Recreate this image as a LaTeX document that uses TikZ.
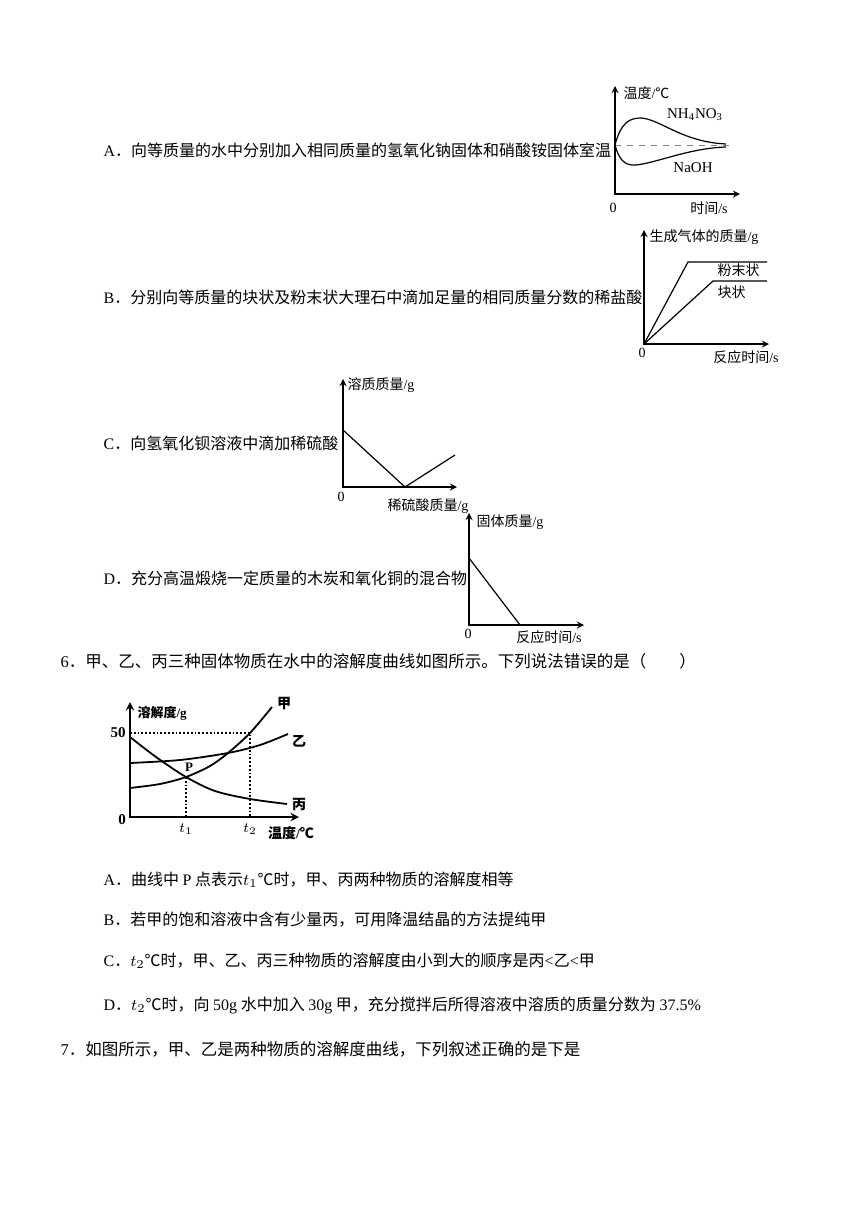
\documentclass[tikz,border=0pt]{standalone}
\usepackage{fontspec}
\setmainfont{Liberation Serif}
\newfontfamily\cjk{Noto Sans CJK SC}
\usetikzlibrary{positioning}
\newcommand\lt[1]{{\rmfamily #1}}

\begin{document}
\begin{tikzpicture}[x=0.5pt,y=-0.5pt,>=stealth,line width=0.6pt,
        txt/.style={anchor=west,inner sep=0pt,font=\cjk\fontsize{8}{9}\selectfont},
        qtxt/.style={anchor=west,inner sep=0pt,font=\cjk\fontsize{8.25}{9}\selectfont},
        lbl/.style={inner sep=0pt,font=\cjk\fontsize{7}{8}\selectfont},
        num/.style={inner sep=0pt,font=\rmfamily\fontsize{7}{8}\selectfont}]
        \useasboundingbox[fill=white] (0,0) rectangle (860,1216);

        % option A
        \node[txt] (qA) at (103,150) {\lt{A}．向等质量的水中分别加入相同质量的氢氧化钠固体和硝酸铵固体室温};
        \coordinate (oA) at (615,194);
        \coordinate (yA) at (615,86);
        \coordinate (xA) at (740,194);
        \coordinate (sA) at (615,145);
        \coordinate (eA) at (731,145);
        \draw[<->] (yA) -- (oA) -- (xA);
        \draw[dashed,gray,line width=0.5pt] (sA) -- (eA);
        \draw (sA) .. controls (621,122) and (630,118) .. (641,118) .. controls (660,119) and (682,142) .. (726,144);
        \draw (sA) .. controls (619,160) and (625,166) .. (636,165) .. controls (656,163) and (690,148) .. (726,147);
        \node[lbl,anchor=west] (tA) at (623,93) {温度\lt{/}℃};
        \node[num,font=\rmfamily\fontsize{7.5}{8}\selectfont] (nh) at (695,115) {NH\textsubscript{4}NO\textsubscript{3}};
        \node[num,font=\rmfamily\fontsize{7.5}{8}\selectfont] (na) at (693,168) {NaOH};
        \node[num] (zA) at (613,208) {0};
        \node[lbl] (sxA) at (709,208) {时间\lt{/s}};

        % option B
        \node[txt] (qB) at (103,297) {\lt{B}．分别向等质量的块状及粉末状大理石中滴加足量的相同质量分数的稀盐酸};
        \coordinate (oB) at (644,344);
        \coordinate (yB) at (644,230);
        \coordinate (xB) at (769,344);
        \draw[<->] (yB) -- (oB) -- (xB);
        \draw (oB) -- (688,262) -- (767,262);
        \draw (oB) -- (713,281) -- (767,281);
        \node[lbl,anchor=west] (tB) at (649,237) {生成气体的质量\lt{/g}};
        \node[lbl,anchor=west] (pw) at (717,270) {粉末状};
        \node[lbl,anchor=west] (bk) at (717,292) {块状};
        \node[num] (zB) at (642,353) {0};
        \node[lbl] (sxB) at (746,357) {反应时间\lt{/s}};

        % option C
        \node[txt] (qC) at (103,443) {\lt{C}．向氢氧化钡溶液中滴加稀硫酸};
        \coordinate (oC) at (343,487);
        \coordinate (yC) at (343,379);
        \coordinate (xC) at (457,487);
        \draw[<->] (yC) -- (oC) -- (xC);
        \draw (343,430) -- (405,487) -- (455,455);
        \node[lbl,anchor=west] (tC) at (347,385) {溶质质量\lt{/g}};
        \node[num] (zC) at (341,497) {0};
        \node[lbl] (sxC) at (428,506) {稀硫酸质量\lt{/g}};

        % option D
        \node[txt] (qD) at (103,578) {\lt{D}．充分高温煅烧一定质量的木炭和氧化铜的混合物};
        \coordinate (oD) at (469,625);
        \coordinate (yD) at (469,513);
        \coordinate (xD) at (584,625);
        \draw[<->] (yD) -- (oD) -- (xD);
        \draw (469,558) -- (520,625);
        \node[lbl,anchor=west] (tD) at (476,522) {固体质量\lt{/g}};
        \node[num] (zD) at (468,634) {0};
        \node[lbl] (sxD) at (549,637) {反应时间\lt{/s}};

        % question 6
        \node[qtxt] (q6) at (60,661) {\lt{6}．甲、乙、丙三种固体物质在水中的溶解度曲线如图所示。下列说法错误的是（　　）};
        \begin{scope}[line width=0.9pt]
        \coordinate (o6) at (130,817);
        \coordinate (y6) at (130,702);
        \coordinate (x6) at (299,817);
        \coordinate (h6) at (250,733);
        \coordinate (P) at (186,777);
        \draw[<->] (y6) -- (o6) -- (x6);
        \draw[densely dotted] (130,733) -- (h6) -- (250,817);
        \draw[densely dotted] (P) -- (186,817);
        \draw plot[smooth] coordinates {(130,788) (160,784) (P) (210,766) (228,753) (h6) (272,707)};
        \draw plot[smooth] coordinates {(130,763) (180,760) (228,753) (260,745) (288,734)};
        \draw plot[smooth] coordinates {(130,737) (156,757) (P) (215,791) (250,799) (287,804)};
        \end{scope}
        \node[lbl,anchor=west,font=\cjk\bfseries\fontsize{6.5}{8}\selectfont] (t6) at (137,713) {溶解度\lt{/g}};
        \node[num,font=\rmfamily\bfseries\fontsize{7.5}{8}\selectfont] (f6) at (118,733) {50};
        \node[num,font=\rmfamily\bfseries\fontsize{7.5}{8}\selectfont] (z6) at (122,820) {0};
        \node[num,font=\rmfamily\bfseries\fontsize{6.5}{8}\selectfont] (pP) at (189,767) {P};
        \node[num] (t1) at (186,829) {$t_1$};
        \node[num] (t2) at (250,829) {$t_2$};
        \node[lbl,font=\cjk\bfseries\fontsize{7}{8}\selectfont] (sx6) at (291,833) {温度\lt{/}℃};
        \node[lbl,font=\cjk\bfseries\fontsize{7}{8}\selectfont] (ja) at (284,704) {甲};
        \node[lbl,font=\cjk\bfseries\fontsize{7}{8}\selectfont] (yi) at (299,741) {乙};
        \node[lbl,font=\cjk\bfseries\fontsize{7}{8}\selectfont] (bi) at (299,805) {丙};

        \node[txt] (a6) at (103,880) {\lt{A}．曲线中 \lt{P} 点表示$t_1$℃时，甲、丙两种物质的溶解度相等};
        \node[txt] (b6) at (103,920) {\lt{B}．若甲的饱和溶液中含有少量丙，可用降温结晶的方法提纯甲};
        \node[txt] (c6) at (103,961) {\lt{C}．$t_2$℃时，甲、乙、丙三种物质的溶解度由小到大的顺序是丙\lt{<}乙\lt{<}甲};
        \node[txt] (d6) at (103,1005) {\lt{D}．$t_2$℃时，向 \lt{50g} 水中加入 \lt{30g} 甲，充分搅拌后所得溶液中溶质的质量分数为 \lt{37.5\%}};

        % question 7
        \node[qtxt] (q7) at (60,1049) {\lt{7}．如图所示，甲、乙是两种物质的溶解度曲线，下列叙述正确的是下是};
    \end{tikzpicture}
\end{document}
